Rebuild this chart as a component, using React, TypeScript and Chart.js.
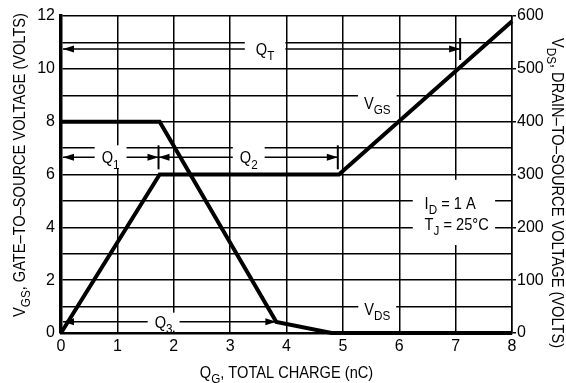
import React, { useEffect, useRef } from "react";
import { Chart, registerables } from "chart.js";

Chart.register(...registerables);

// ---- data ----
const CHARGE_TICKS = [0, 1, 2, 3, 4, 5, 6, 7, 8]; // nC
const VGS_TICKS = [0, 2, 4, 6, 8, 10, 12]; // V, labelled on the left axis
const VDS_TICKS = [0, 100, 200, 300, 400, 500, 600]; // V, right axis

const VGS_CHARGE = [0, 1.75, 4.93, 8]; // nC
const VGS_VOLTS = [0, 6, 6, 11.8]; // V
const VDS_CHARGE = [0, 1.75, 3.82, 4.8, 8]; // nC
const VDS_VOLTS = [400, 400, 21, 0, 0]; // V

// charge intervals (nC) marked by dimension arrows
const QT_SPAN = [0, 7.08];
const Q1_SPAN = [0, 1.73];
const Q2_SPAN = [1.73, 4.91];
const Q3_SPAN = [0, 3.82];

// ---- layout / style ----
const FONT = '"Liberation Sans Narrow", "Arial Narrow", "Liberation Sans", Arial, sans-serif';
const font = (s: number) => `${s}px ${FONT}`;
const NARROW = 0.86; // horizontal squeeze imitating the condensed face of the original

type Part = [string, boolean];

function richWidth(ctx: CanvasRenderingContext2D, parts: Part[], size: number) {
  let w = 0;
  for (const [t, s] of parts) {
    ctx.font = font(s ? size * 0.8 : size);
    w += ctx.measureText(t).width;
  }
  return w * NARROW;
}

function drawRich(
  ctx: CanvasRenderingContext2D,
  parts: Part[],
  x: number,
  y: number,
  size: number,
  align: "left" | "center"
) {
  const w = richWidth(ctx, parts, size);
  const x0 = align === "center" ? x - w / 2 : x;
  ctx.save();
  ctx.translate(x0, y);
  ctx.scale(NARROW, 1);
  ctx.textAlign = "left";
  ctx.textBaseline = "alphabetic";
  ctx.fillStyle = "#000";
  let cx = 0;
  for (const [t, s] of parts) {
    ctx.font = font(s ? size * 0.8 : size);
    ctx.fillText(t, cx, s ? size * 0.3 : 0);
    cx += ctx.measureText(t).width;
  }
  ctx.restore();
  return w;
}

const annotPlugin = {
  id: "gateChargeAnnotations",
  beforeDatasetsDraw(chart: any) {
    const ctx: CanvasRenderingContext2D = chart.ctx;
    const sx = chart.scales.x;
    const sy = chart.scales.y;
    const px = (v: number) => sx.getPixelForValue(v);
    const py = (v: number) => sy.getPixelForValue(v);
    ctx.save();

    const arrowHead = (x: number, y: number, dir: number) => {
      ctx.beginPath();
      ctx.moveTo(x, y);
      ctx.lineTo(x - dir * 11, y - 3.5);
      ctx.lineTo(x - dir * 11, y + 3.5);
      ctx.closePath();
      ctx.fill();
    };
    const hArrow = (span: number[], level: number, headL: boolean, headR: boolean) => {
      const y = py(level);
      const x1 = px(span[0]) + (span[0] === 0 ? 2 : 0);
      const x2 = px(span[1]);
      ctx.strokeStyle = "#000";
      ctx.fillStyle = "#000";
      ctx.lineWidth = 1.5;
      ctx.beginPath();
      ctx.moveTo(x1, y);
      ctx.lineTo(x2, y);
      ctx.stroke();
      if (headL) arrowHead(x1, y, -1);
      if (headR) arrowHead(x2, y, 1);
    };
    const vBar = (at: number, level: number, half: number) => {
      ctx.strokeStyle = "#000";
      ctx.lineWidth = 2;
      ctx.beginPath();
      ctx.moveTo(px(at), py(level) - half);
      ctx.lineTo(px(at), py(level) + half);
      ctx.stroke();
    };
    const label = (parts: Part[], x: number, level: number, padX: number, up: number, down: number) => {
      const size = 17;
      const w = richWidth(ctx, parts, size);
      const cx = px(x);
      const cy = py(level);
      ctx.fillStyle = "#fff";
      ctx.fillRect(cx - w / 2 - padX, cy - up, w + 2 * padX, up + down);
      drawRich(ctx, parts, cx, cy + size * 0.36, size, "center");
    };

    // arrows
    hArrow(QT_SPAN, 10.75, true, true);
    vBar(QT_SPAN[1], 10.75, 11);
    hArrow(Q1_SPAN, 6.65, true, true);
    hArrow(Q2_SPAN, 6.65, true, true);
    vBar(Q1_SPAN[1], 6.65, 12);
    vBar(Q2_SPAN[1], 6.65, 12);
    hArrow(Q3_SPAN, 0.43, true, true);

    // labels with white backgrounds
    label([["Q", false], ["T", true]], 3.62, 10.75, 11, 13, 11);
    label([["Q", false], ["1", true]], 0.88, 6.65, 7, 12, 11);
    label([["Q", false], ["2", true]], 3.33, 6.65, 7, 12, 11);
    label([["Q", false], ["3", true]], 1.82, 0.43, 7, 9, 9);
    label([["V", false], ["GS", true]], 5.61, 8.73, 6, 13, 12);
    label([["V", false], ["DS", true]], 5.61, 0.91, 6, 12, 12);

    // conditions box
    ctx.fillStyle = "#fff";
    const bx1 = px(6.24), bx2 = px(7.7), by1 = py(5.8), by2 = py(3.33);
    ctx.fillRect(bx1, by1, bx2 - bx1, by2 - by1);
    drawRich(ctx, [["I", false], ["D", true], [" = 1 A", false]], px(6.45), py(4.92) + 6, 17, "left");
    drawRich(ctx, [["T", false], ["J", true], [" = 25°C", false]], px(6.45), py(4.13) + 6, 17, "left");

    ctx.restore();
  },
};

const titlePlugin = {
  id: "axisTitles",
  afterDraw(chart: any) {
    const ctx: CanvasRenderingContext2D = chart.ctx;
    const area = chart.chartArea;
    ctx.save();
    // bottom
    drawRich(
      ctx,
      [["Q", false], ["G", true], [", TOTAL CHARGE (nC)", false]],
      (area.left + area.right) / 2,
      378,
      17,
      "center"
    );
    // left
    ctx.save();
    ctx.translate(25, 165);
    ctx.rotate(-Math.PI / 2);
    drawRich(ctx, [["V", false], ["GS", true], [", GATE–TO–SOURCE VOLTAGE (VOLTS)", false]], 0, 0, 17, "center");
    ctx.restore();
    // right
    ctx.save();
    ctx.translate(552, 193);
    ctx.rotate(Math.PI / 2);
    drawRich(ctx, [["V", false], ["DS", true], [", DRAIN–TO–SOURCE VOLTAGE (VOLTS)", false]], 0, 0, 17, "center");
    ctx.restore();
    ctx.restore();
  },
};

export default function App() {
  const ref = useRef<HTMLCanvasElement>(null);
  useEffect(() => {
    const canvas = ref.current!;
    const tickFont = { size: 16, family: FONT };
    const chart = new Chart(canvas, {
      type: "line",
      data: {
        datasets: [
          {
            label: "VGS",
            data: VGS_CHARGE.map((x, i) => ({ x, y: VGS_VOLTS[i] })),
            yAxisID: "y",
            borderColor: "#000",
            borderWidth: 4,
            pointRadius: 0,
            tension: 0,
            clip: false as any,
          },
          {
            label: "VDS",
            data: VDS_CHARGE.map((x, i) => ({ x, y: VDS_VOLTS[i] })),
            yAxisID: "y1",
            borderColor: "#000",
            borderWidth: 4,
            pointRadius: 0,
            tension: 0,
            clip: false as any,
          },
        ],
      },
      options: {
        responsive: false,
        animation: false,
        devicePixelRatio: 1,
        layout: { padding: { top: 16, left: 0, right: 0, bottom: 0 } },
        plugins: { legend: { display: false }, tooltip: { enabled: false } },
        scales: {
          x: {
            type: "linear",
            min: CHARGE_TICKS[0],
            max: CHARGE_TICKS[CHARGE_TICKS.length - 1],
            ticks: { stepSize: 1, color: "#000", padding: 4, font: tickFont, maxRotation: 0, autoSkip: false },
            grid: { color: "#000", lineWidth: 1.5, drawTicks: false },
            border: { color: "#000", width: 2.5 },
            afterFit: (s: any) => {
              s.height = 50;
            },
          },
          y: {
            position: "left",
            min: VGS_TICKS[0],
            max: VGS_TICKS[VGS_TICKS.length - 1],
            ticks: {
              stepSize: 1,
              autoSkip: false,
              color: "#000",
              padding: 6,
              font: tickFont,
              callback: (v: any) => (VGS_TICKS.includes(Number(v)) ? String(v) : ""),
            },
            grid: { color: "#000", lineWidth: 1.5, drawTicks: false },
            border: { color: "#000", width: 3.5 },
            afterFit: (s: any) => {
              s.width = 61;
            },
          },
          y1: {
            position: "right",
            min: VDS_TICKS[0],
            max: VDS_TICKS[VDS_TICKS.length - 1],
            ticks: { stepSize: 100, autoSkip: false, color: "#000", padding: 1, font: tickFont },
            grid: { drawOnChartArea: false, drawTicks: true, tickLength: 4, color: "#000", lineWidth: 1.5 },
            border: { color: "#000", width: 1.5 },
            afterFit: (s: any) => {
              s.width = 54;
            },
          },
        },
      } as any,
      plugins: [annotPlugin, titlePlugin],
    });
    return () => chart.destroy();
  }, []);

  return (
    <div style={{ position: "absolute", left: 0, top: 0, width: 566, height: 383, background: "#fff" }}>
      <canvas ref={ref} width={566} height={383} style={{ display: "block" }} />
    </div>
  );
}
